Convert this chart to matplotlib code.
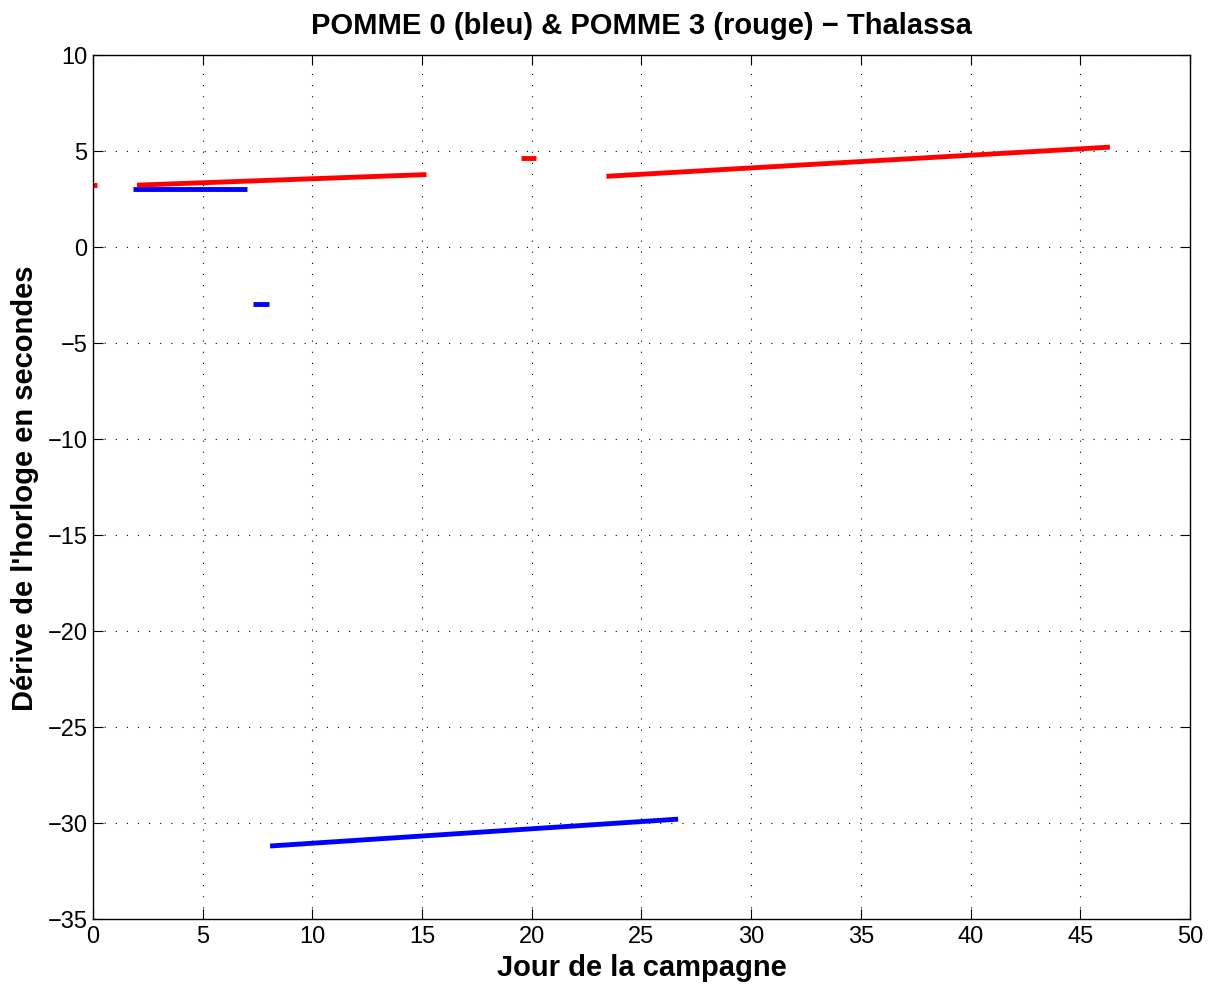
import numpy as np
import matplotlib
matplotlib.use('Agg')
import matplotlib.pyplot as plt

plt.rcParams['font.family'] = ['Liberation Sans', 'DejaVu Sans']

# segments of clock drift: (day start, day end, drift start, drift end)
bleu_x0 = [1.8, 7.3, 8.07]
bleu_x1 = [7.0, 8.0, 26.67]
bleu_y0 = [3.02, -2.95, -31.2]
bleu_y1 = [3.02, -2.95, -29.8]

rouge_x0 = [0.0, 2.0, 19.5, 23.4]
rouge_x1 = [0.2, 15.2, 20.2, 46.35]
rouge_y0 = [3.25, 3.22, 4.65, 3.68]
rouge_y1 = [3.25, 3.77, 4.65, 5.2]

fig = plt.figure(figsize=(12.13, 9.87), dpi=100)
ax = fig.add_axes([0.0767, 0.0679, 0.9043, 0.8754])

for x0, x1, y0, y1 in zip(bleu_x0, bleu_x1, bleu_y0, bleu_y1):
    ax.plot([x0, x1], [y0, y1], color='blue', lw=3.5, solid_capstyle='butt')
for x0, x1, y0, y1 in zip(rouge_x0, rouge_x1, rouge_y0, rouge_y1):
    ax.plot([x0, x1], [y0, y1], color='red', lw=3.5, solid_capstyle='butt')

ax.set_xlim(0, 50)
ax.set_ylim(-35, 10)
ax.set_xticks(np.arange(0, 51, 5))
ax.set_yticks(np.arange(-35, 11, 5))
ax.tick_params(direction='in', top=True, right=True, labelsize=17, length=7, width=0.8, pad=4)
ax.grid(True, linestyle=(0, (1, 9)), color='black', linewidth=0.8)
for sp in ax.spines.values():
    sp.set_linewidth(1.0)

ax.set_title('POMME 0 (bleu) & POMME 3 (rouge) \u2212 Thalassa', fontsize=21, fontweight='bold', pad=16)
ax.set_xlabel('Jour de la campagne', fontsize=21, fontweight='bold', labelpad=5)
ax.set_ylabel("Dérive de l'horloge en secondes", fontsize=21, fontweight='bold', labelpad=6)

fig.savefig('out.png', dpi=100)
